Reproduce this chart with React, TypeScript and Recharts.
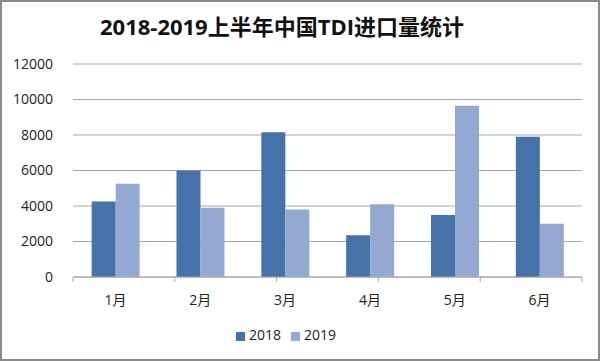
import { BarChart, Bar, XAxis, YAxis, CartesianGrid, Legend } from 'recharts'

const MONTHS = ['1月', '2月', '3月', '4月', '5月', '6月']
const IMPORTS_2018 = [4250, 6000, 8150, 2350, 3500, 7900]
const IMPORTS_2019 = [5250, 3900, 3800, 4100, 9650, 3000]
const Y_TICKS = [0, 2000, 4000, 6000, 8000, 10000, 12000]
const BOUNDARY_TICKS = [0, 1, 2, 3, 4, 5, 6]

const FONT = '"Open Sans", "Noto Sans CJK SC", sans-serif'

const data = MONTHS.map((m, i) => ({
    month: m,
    y2018: IMPORTS_2018[i],
    y2019: IMPORTS_2019[i]
}))

export default function App() {
    return (
        <div
            style={{
                position: 'fixed',
                left: 0,
                top: 0,
                width: 600,
                height: 361,
                boxSizing: 'border-box',
                border: '2px solid #8a8a8a',
                background: '#fff',
                fontFamily: FONT
            }}
        >
            <div
                style={{
                    position: 'absolute',
                    left: 0,
                    width: 560,
                    top: 10,
                    textAlign: 'center',
                    fontSize: 22,
                    fontWeight: 'bold',
                    color: '#111',
                    lineHeight: '28px'
                }}
            >
                2018-2019上半年中国TDI进口量统计
            </div>
            <div style={{ position: 'absolute', left: -2, top: -2 }}>
                <BarChart
                    width={600}
                    height={361}
                    data={data}
                    margin={{ top: 64, right: 18, left: 0, bottom: 20 }}
                    barCategoryGap="22%"
                    barGap={0}
                >
                    <CartesianGrid vertical={false} stroke="#a8a8a8" />
                    <XAxis
                        xAxisId="bounds"
                        type="number"
                        domain={[0, 6]}
                        ticks={BOUNDARY_TICKS}
                        tickFormatter={() => ''}
                        axisLine={{ stroke: '#a8a8a8' }}
                        tickLine={{ stroke: '#a8a8a8' }}
                        tickSize={5}
                        height={8}
                        allowDataOverflow
                    />
                    <XAxis
                        xAxisId="cat"
                        dataKey="month"
                        axisLine={false}
                        tickLine={false}
                        tickSize={0}
                        tickMargin={10}
                        height={30}
                        tick={{ fill: '#222', fontSize: 14, fontFamily: FONT }}
                    />
                    <YAxis
                        domain={[0, 12000]}
                        ticks={Y_TICKS}
                        width={73}
                        axisLine={false}
                        tickLine={false}
                        tickSize={0}
                        tickMargin={20}
                        tick={{ fill: '#222', fontSize: 14, fontFamily: FONT }}
                        interval={0}
                    />
                    <Legend
                        verticalAlign="bottom"
                        align="center"
                        iconType="square"
                        iconSize={9}
                        height={26}
                        wrapperStyle={{ bottom: 10, fontSize: 14, fontFamily: FONT, paddingLeft: 0 }}
                        formatter={(value) => <span style={{ color: '#222' }}>{value}</span>}
                    />
                    <Bar xAxisId="cat" dataKey="y2018" name="2018" fill="#4572a8" isAnimationActive={false} />
                    <Bar xAxisId="cat" dataKey="y2019" name="2019" fill="#94a9d2" isAnimationActive={false} />
                </BarChart>
            </div>
        </div>
    )
}
